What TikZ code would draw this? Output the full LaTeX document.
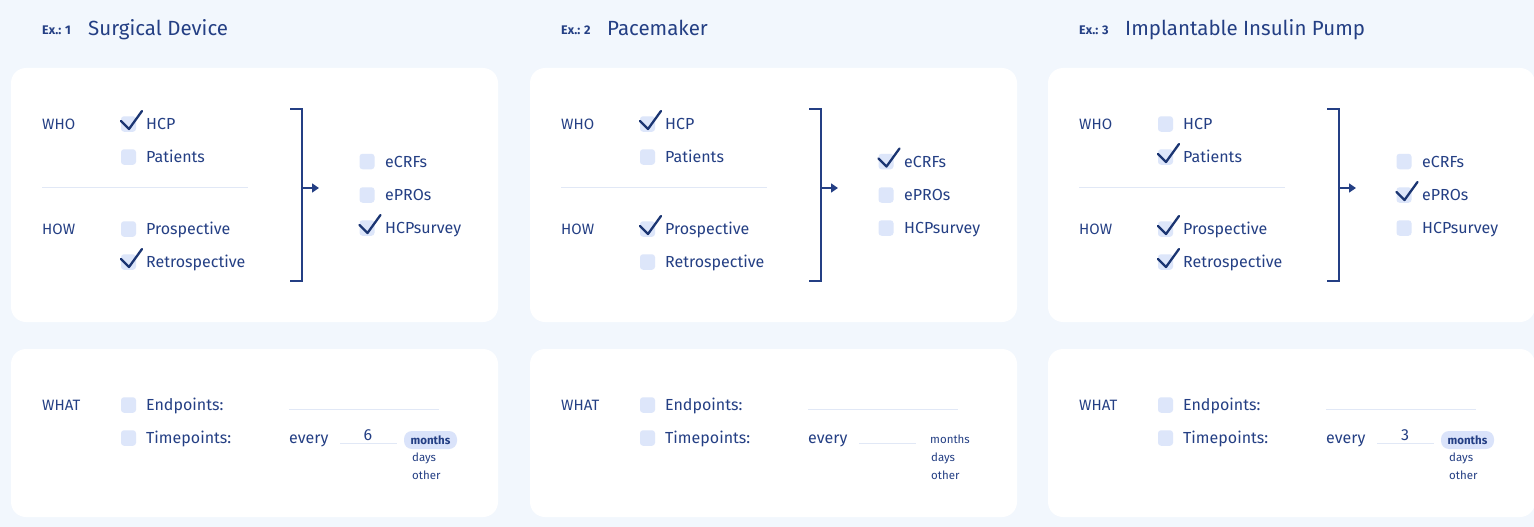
\documentclass[tikz,border=0pt]{standalone}
\usepackage{fontspec}
\setmainfont{Fira Sans}
\usetikzlibrary{arrows.meta}

\definecolor{pagebg}{HTML}{F2F7FD}
\definecolor{ink}{HTML}{243F84}
\definecolor{checkink}{HTML}{1B3572}
\definecolor{boxfill}{HTML}{DDE6FA}
\definecolor{rulecol}{HTML}{E1E8F6}
\definecolor{pillfill}{HTML}{DAE3FA}

\tikzset{
  cardbox/.style={fill=white, rounded corners=15pt},
  cbox/.style={fill=boxfill, rounded corners=3pt, minimum width=15pt,
    minimum height=15.5pt, inner sep=0pt, draw=none},
  lbl/.style={text=ink, font=\fontsize{16}{19}\selectfont, inner sep=0pt, anchor=base west},
  hdr/.style={text=ink, font=\fontsize{15}{18}\selectfont, inner sep=0pt, anchor=base west},
  exlbl/.style={text=ink, font=\bfseries\fontsize{12.5}{14}\selectfont, inner sep=0pt, anchor=base west},
  titlelbl/.style={text=ink, font=\fontsize{20.5}{24}\selectfont, inner sep=0pt, anchor=base west},
  small/.style={text=ink, font=\fontsize{11.5}{14}\selectfont, inner sep=0pt, anchor=base west},
  pill/.style={fill=pillfill, rounded corners=8pt, minimum width=53pt, minimum height=18pt,
    inner sep=0pt, text=ink, font=\bfseries\fontsize{11.5}{14}\selectfont},
  tick/.style={draw=checkink, line width=2.3pt, line cap=round, line join=round},
  divider/.style={draw=rulecol, line width=1pt},
  bracket/.style={draw=ink, line width=1.4pt},
  flow/.style={draw=ink, line width=1.4pt, -{Triangle[length=7pt,width=9pt]}},
  fillline/.style={draw=rulecol, line width=1pt},
}

% one option: box, label, optional check mark
% #1 name, #2 box centre x, #3 row y, #4 label x, #5 text, #6 checked (1/0)
\newcommand\optrow[6]{%
  \node[cbox] (#1box) at (#2,#3) {};
  \node[lbl] (#1) at (#4,#3+5.5) {#5};
  \ifnum#6=1
    \draw[tick] ([shift={(-7.5,-3)}]#1box.center) -- ++(8,8) -- ++(13,-18);
  \fi
}

% shared frame of one example: cards, headings, rules, bracket and arrow
% #1 id, #2 example number, #3 title
\newcommand\examplecard[3]{%
  \fill[cardbox] (11,68) rectangle (498,322);
  \fill[cardbox] (11,349) rectangle (498,517);
  \node[exlbl] (#1ex) at (42,35) {Ex.: #2};
  \node[titlelbl] (#1title) at (88,35.5) {#3};
  \node[hdr] (#1who) at (42,129.2) {WHO};
  \node[hdr] (#1how) at (42,234.2) {HOW};
  \node[hdr] (#1what) at (42,410.2) {WHAT};
  \coordinate (#1divl) at (42,187);
  \coordinate (#1divr) at (248,187);
  \draw[divider] (#1divl) -- (#1divr);
  \coordinate (#1bt) at (302,109);
  \coordinate (#1bb) at (302,281);
  \coordinate (#1bm) at (302,188);
  \coordinate (#1tip) at (319,188);
  \draw[bracket] ([xshift=-12pt]#1bt) -- (#1bt) -- (#1bb) -- ([xshift=-12pt]#1bb);
  \draw[flow] (#1bm) -- (#1tip);
  \coordinate (#1epl) at (289,409);
  \coordinate (#1epr) at (439,409);
  \draw[fillline] (#1epl) -- (#1epr);
  \node[lbl] (#1every) at (289,443.5) {every};
  \coordinate (#1nl) at (340,443);
  \coordinate (#1nr) at (397,443);
  \draw[fillline] (#1nl) -- (#1nr);
  \node[small] (#1days) at (412,461) {days};
  \node[small] (#1other) at (412,479) {other};
}

\begin{document}
\begin{tikzpicture}[x=1pt, y=-1pt]
  \useasboundingbox (0,0) rectangle (1534,527);
  \fill[pagebg] (0,0) rectangle (1534,527);

  % ---------- example 1 ----------
  \begin{scope}
    \examplecard{a}{1}{Surgical Device}
    \optrow{ahcp}{128.5}{124}{146}{HCP}{1}
    \optrow{apat}{128.5}{157}{146}{Patients}{0}
    \optrow{apro}{128.5}{229}{146}{Prospective}{0}
    \optrow{aret}{128.5}{262}{146}{Retrospective}{1}
    \optrow{aecrf}{367}{161.5}{385}{eCRFs}{0}
    \optrow{aepro}{367}{195}{385}{ePROs}{0}
    \optrow{asurv}{367}{228}{385}{HCPsurvey}{1}
    \optrow{aend}{128.5}{405}{146}{Endpoints:}{0}
    \optrow{atime}{128.5}{438}{146}{Timepoints:}{0}
    \node[lbl, anchor=base] (anum) at (368,440) {6};
    \node[pill] (amonths) at (430.5,440) {months};
  \end{scope}

  % ---------- example 2 ----------
  \begin{scope}[xshift=519pt]
    \examplecard{b}{2}{Pacemaker}
    \optrow{bhcp}{128.5}{124}{146}{HCP}{1}
    \optrow{bpat}{128.5}{157}{146}{Patients}{0}
    \optrow{bpro}{128.5}{229}{146}{Prospective}{1}
    \optrow{bret}{128.5}{262}{146}{Retrospective}{0}
    \optrow{becrf}{367}{161.5}{385}{eCRFs}{1}
    \optrow{bepro}{367}{195}{385}{ePROs}{0}
    \optrow{bsurv}{367}{228}{385}{HCPsurvey}{0}
    \optrow{bend}{128.5}{405}{146}{Endpoints:}{0}
    \optrow{btime}{128.5}{438}{146}{Timepoints:}{0}
    \node[small] (bmonths) at (411,443) {months};
  \end{scope}

  % ---------- example 3 ----------
  \begin{scope}[xshift=1037pt]
    \examplecard{c}{3}{Implantable Insulin Pump}
    \optrow{chcp}{128.5}{124}{146}{HCP}{0}
    \optrow{cpat}{128.5}{157}{146}{Patients}{1}
    \optrow{cpro}{128.5}{229}{146}{Prospective}{1}
    \optrow{cret}{128.5}{262}{146}{Retrospective}{1}
    \optrow{cecrf}{367}{161.5}{385}{eCRFs}{0}
    \optrow{cepro}{367}{195}{385}{ePROs}{1}
    \optrow{csurv}{367}{228}{385}{HCPsurvey}{0}
    \optrow{cend}{128.5}{405}{146}{Endpoints:}{0}
    \optrow{ctime}{128.5}{438}{146}{Timepoints:}{0}
    \node[lbl, anchor=base] (cnum) at (368,440) {3};
    \node[pill] (cmonths) at (430.5,440) {months};
  \end{scope}
\end{tikzpicture}
\end{document}
